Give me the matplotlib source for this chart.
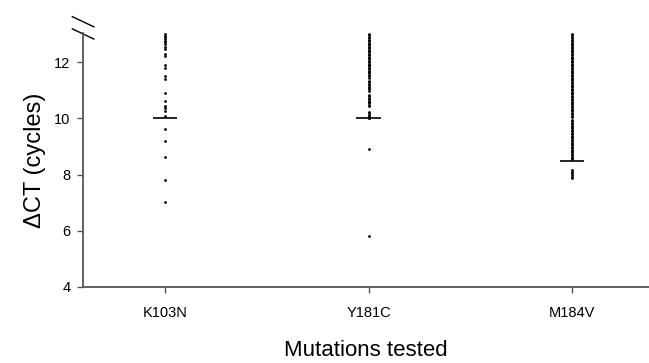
import matplotlib
matplotlib.use("Agg")
import matplotlib.pyplot as plt
from matplotlib.lines import Line2D

plt.rcParams["font.family"] = ["Liberation Sans", "DejaVu Sans"]

# -------------------------------------------------
# DATA
# -------------------------------------------------

mutations = ["K103N", "Y181C", "M184V"]

k103n = [12.99, 12.93, 12.89, 12.83, 12.77, 12.71, 12.64, 12.55, 12.48,
         12.29, 12.22, 11.90, 11.79, 11.51, 11.40, 10.90, 10.62, 10.44,
         10.37, 10.26, 10.08, 9.62, 9.19, 8.63, 7.81, 7.02]

y181c = [13.00, 12.95, 12.90, 12.85, 12.80, 12.75, 12.70, 12.65, 12.60,
         12.55, 12.50, 12.45, 12.40, 12.35, 12.30, 12.25, 12.20, 12.15,
         12.10, 12.05, 12.00, 11.95, 11.90, 11.85, 11.80, 11.75, 11.70,
         11.65, 11.60, 11.55, 11.50, 11.45,
         11.33, 11.28, 11.23, 11.18, 11.13, 11.08, 11.03, 10.98,
         10.83, 10.78, 10.73, 10.68, 10.63, 10.58, 10.53, 10.48, 10.43,
         10.23, 10.18, 10.13, 10.08, 10.03, 10.00,
         8.91, 5.81]

m184v = [13.00, 12.95, 12.90, 12.85, 12.80, 12.75, 12.70, 12.65, 12.60,
         12.55, 12.50, 12.45, 12.40, 12.35, 12.30, 12.25, 12.20, 12.15,
         12.10, 12.05, 12.00, 11.95, 11.90, 11.85, 11.80, 11.75, 11.70,
         11.65, 11.60, 11.55, 11.50, 11.45, 11.40, 11.35, 11.30, 11.25,
         11.20, 11.15, 11.10, 11.05, 11.00, 10.95, 10.90, 10.85, 10.80,
         10.75, 10.70, 10.65, 10.60, 10.55, 10.50, 10.45, 10.40, 10.35,
         10.30, 10.25, 10.20, 10.15, 10.10, 10.06,
         9.94, 9.89, 9.84, 9.79, 9.74, 9.69, 9.64, 9.59, 9.54, 9.49,
         9.44, 9.39, 9.34, 9.29, 9.24, 9.19, 9.14, 9.09, 9.04, 8.99,
         8.94, 8.89, 8.84, 8.79, 8.74, 8.69, 8.64, 8.59, 8.54,
         8.16, 8.10, 8.04, 7.98, 7.93, 7.88]

medians = [10.0, 10.0, 8.47]

yticks = [4, 6, 8, 10, 12]

# -------------------------------------------------
# PLOT
# -------------------------------------------------

fig = plt.figure(figsize=(6.49, 3.63), dpi=100)
ax = fig.add_axes([0.128, 0.2094, 0.872, 0.7006])

for i, values in enumerate([k103n, y181c, m184v]):
    ax.plot([i] * len(values), values, "o", color="black",
            markersize=2.0, markeredgewidth=0)
    ax.hlines(medians[i], i - 0.06, i + 0.06, color="black", linewidth=1.2)

ax.set_xlim(-0.403, 2.378)
ax.set_ylim(4, 13.05)
ax.set_xticks(range(len(mutations)))
ax.set_xticklabels(mutations, fontsize=10.5)
ax.set_yticks(yticks)
ax.set_yticklabels([str(t) for t in yticks], fontsize=10.5)

spine_col = "#555555"
for side in ["top", "right"]:
    ax.spines[side].set_visible(False)
for side in ["left", "bottom"]:
    ax.spines[side].set_color(spine_col)
    ax.spines[side].set_linewidth(1.3)

ax.tick_params(axis="both", direction="out", color=spine_col, width=1.0,
               length=4)
ax.tick_params(axis="x", pad=10)
ax.tick_params(axis="y", pad=5)

ax.set_ylabel("ΔCT (cycles)", fontsize=17, labelpad=6)
ax.set_xlabel("Mutations tested", fontsize=16, labelpad=14)

# axis break marks at top of y axis
for dy in [0.0, -0.048]:
    ax.add_line(Line2D([-0.019, 0.019], [1.063 + dy, 1.023 + dy],
                       transform=ax.transAxes, color="black",
                       linewidth=1.0, clip_on=False))

plt.savefig("out.png", dpi=100)
